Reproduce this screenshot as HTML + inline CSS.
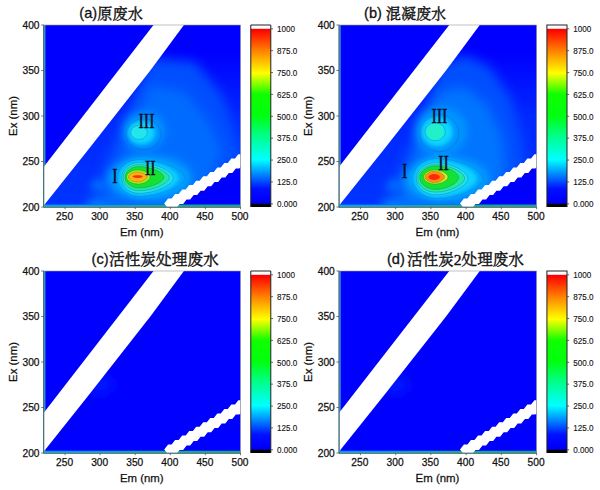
<!DOCTYPE html>
<html><head><meta charset="utf-8"><title>EEM</title>
<style>
html,body{margin:0;padding:0;background:#fff;}
body{width:600px;height:490px;overflow:hidden;font-family:"Liberation Sans",sans-serif;}
svg{display:block}
.tk{font-family:"Liberation Sans",sans-serif;font-size:10.2px;fill:#111;stroke:#111;stroke-width:0.25px}
.ax{font-family:"Liberation Sans",sans-serif;font-size:11.4px;fill:#111;stroke:#111;stroke-width:0.25px}
.cbt{font-family:"Liberation Sans",sans-serif;font-size:9.3px;fill:#111;stroke:#111;stroke-width:0.12px}
.tt{font-family:"Liberation Sans",sans-serif;font-size:14.6px;fill:#111;stroke:#111;stroke-width:0.3px}
.rn{font-family:"Liberation Serif",serif;font-size:21px;fill:#0c0c28;stroke:#0c0c28;stroke-width:0.45px}
.cj{font-family:"Liberation Serif","Noto Serif CJK SC",serif;fill:#111;stroke:#111;stroke-width:0.4px}
</style></head><body>
<svg width="600" height="490" viewBox="0 0 600 490">
<defs>
<clipPath id="clip"><rect x="0" y="0" width="196.5" height="182"/></clipPath>
<linearGradient id="cb" x1="0" y1="1" x2="0" y2="0">
<stop offset="0" stop-color="#0000c0"/>
<stop offset="0.04" stop-color="#0000ff"/>
<stop offset="0.10" stop-color="#0010ff"/>
<stop offset="0.26" stop-color="#00ffff"/>
<stop offset="0.40" stop-color="#00ff80"/>
<stop offset="0.50" stop-color="#00ff10"/>
<stop offset="0.62" stop-color="#10ff00"/>
<stop offset="0.735" stop-color="#ffff00"/>
<stop offset="0.86" stop-color="#ff8000"/>
<stop offset="0.975" stop-color="#ff0000"/>
<stop offset="1" stop-color="#ff0000"/>
</linearGradient>
<linearGradient id="base" x1="0" y1="0" x2="0" y2="1"><stop offset="0.15" stop-color="#0000fe"/><stop offset="0.5" stop-color="#0028ff"/><stop offset="1" stop-color="#0034ff"/></linearGradient>
<linearGradient id="botline2" x1="0" y1="0" x2="0" y2="1"><stop offset="0" stop-color="#1088e8"/><stop offset="0.6" stop-color="#18c0d0"/><stop offset="1" stop-color="#20b0a0"/></linearGradient>
<linearGradient id="botline" x1="0" y1="0" x2="0" y2="1"><stop offset="0" stop-color="#0868ff"/><stop offset="0.5" stop-color="#10a8e8"/><stop offset="1" stop-color="#18b4c0"/></linearGradient>
<linearGradient id="botgreen" x1="0" y1="0" x2="1" y2="0"><stop offset="0.2" stop-color="#20b070" stop-opacity="0"/><stop offset="0.6" stop-color="#20b070" stop-opacity="0.85"/><stop offset="1" stop-color="#20a860" stop-opacity="0.9"/></linearGradient>
<filter id="b12" x="-50%" y="-50%" width="200%" height="200%"><feGaussianBlur stdDeviation="10"/></filter>
<clipPath id="mid"><polygon points="0,180 2.2,177.5 44,125 106.7,45 139.9,0 196.5,0 196.5,129 120,182 0,182"/></clipPath>
<filter id="b8" x="-50%" y="-50%" width="200%" height="200%"><feGaussianBlur stdDeviation="6"/></filter>
<filter id="b5" x="-50%" y="-50%" width="200%" height="200%"><feGaussianBlur stdDeviation="4.5"/></filter>
<filter id="b05" x="-50%" y="-50%" width="200%" height="200%"><feGaussianBlur stdDeviation="0.5"/></filter>
<filter id="b6" x="-50%" y="-50%" width="200%" height="200%"><feGaussianBlur stdDeviation="6"/></filter>
<filter id="b3" x="-50%" y="-50%" width="200%" height="200%"><feGaussianBlur stdDeviation="2.4"/></filter>
<filter id="b1" x="-50%" y="-50%" width="200%" height="200%"><feGaussianBlur stdDeviation="0.7"/></filter>
</defs>
<rect width="600" height="490" fill="#fff"/>

<g transform="translate(44,25) scale(1,1)">
<rect x="0" y="0" width="196.5" height="182.0" fill="#0000fe"/>
<g clip-path="url(#clip)">
<g clip-path="url(#mid)">
<rect x="0" y="0" width="196.5" height="182" fill="url(#base)"/>
<g filter="url(#b8)">
<polygon points="106.0,33.0 151.0,37.0 178.0,70.0 194.0,115.0 200.0,135.0 200.0,186.0 40.0,186.0 52.0,160.0" fill="#0050ff" />
</g>
<g filter="url(#b6)">
<polygon points="106.0,60.0 141.0,67.0 164.0,95.0 178.0,125.0 156.0,186.0 56.0,186.0 71.0,145.0" fill="#006cff" />
</g>
<g filter="url(#b5)">
<ellipse cx="100.0" cy="106.0" rx="21.0" ry="19.0" fill="#0094ff" />
<ellipse cx="106.0" cy="153.0" rx="42.0" ry="22.0" fill="#00a0ff" />
<ellipse cx="54.0" cy="160.0" rx="7.0" ry="4.0" fill="#0080ff" />
<ellipse cx="52.0" cy="180.0" rx="10.0" ry="2.5" fill="#00b0ff" />
</g>
<g filter="url(#b3)">
<ellipse cx="97.5" cy="107.8" rx="13.5" ry="11.5" fill="#10d8ff" />
<path d="M75.0,153.0C75.0,143.3 84.0,135.5 95.0,135.5C113.0,135.5 135.0,145.1 135.0,153.0C135.0,160.9 113.0,170.5 95.0,170.5C84.0,170.5 75.0,162.7 75.0,153.0Z" fill="#10d4ff" />
</g>
</g>
<g filter="url(#b1)">
<ellipse cx="95.0" cy="107.5" rx="8.2" ry="6.9" fill="#22e6ee" />
<path d="M77.8,153.0C77.8,144.5 85.5,137.7 95.0,137.7C110.4,137.7 129.2,146.1 129.2,153.0C129.2,159.9 110.4,168.3 95.0,168.3C85.5,168.3 77.8,161.5 77.8,153.0Z" fill="#20e0f0" />
<path d="M79.2,152.7C79.2,145.5 86.3,139.7 95.0,139.7C108.6,139.7 125.2,146.8 125.2,152.7C125.2,158.5 108.6,165.7 95.0,165.7C86.3,165.7 79.2,159.9 79.2,152.7Z" fill="#20e8a0" />
<path d="M81.2,152.3C81.2,146.4 87.4,141.6 95.0,141.6C106.2,141.6 119.8,147.5 119.8,152.3C119.8,157.1 106.2,163.0 95.0,163.0C87.4,163.0 81.2,158.2 81.2,152.3Z" fill="#18e030" />
<path d="M82.7,152.0C82.7,148.1 88.0,145.0 94.5,145.0C99.7,145.0 106.0,148.8 106.0,152.0C106.0,155.2 99.7,159.0 94.5,159.0C88.0,159.0 82.7,155.9 82.7,152.0Z" fill="#b0ec20" />
<path d="M84.5,152.0C84.5,149.2 88.9,147.0 94.3,147.0C98.3,147.0 103.1,149.8 103.1,152.0C103.1,154.2 98.3,157.0 94.3,157.0C88.9,157.0 84.5,154.8 84.5,152.0Z" fill="#ffb010" />
</g>
<ellipse cx="95.0" cy="107.5" rx="8.2" ry="6.9" fill="none" stroke="#0a3848" stroke-opacity="0.5" stroke-width="0.45"/>
<path d="M77.8,153.0C77.8,144.5 85.5,137.7 95.0,137.7C110.4,137.7 129.2,146.1 129.2,153.0C129.2,159.9 110.4,168.3 95.0,168.3C85.5,168.3 77.8,161.5 77.8,153.0Z" fill="none" stroke="#0a3848" stroke-opacity="0.5" stroke-width="0.45"/>
<path d="M79.2,152.7C79.2,145.5 86.3,139.7 95.0,139.7C108.6,139.7 125.2,146.8 125.2,152.7C125.2,158.5 108.6,165.7 95.0,165.7C86.3,165.7 79.2,159.9 79.2,152.7Z" fill="none" stroke="#0a3848" stroke-opacity="0.5" stroke-width="0.45"/>
<path d="M81.2,152.3C81.2,146.4 87.4,141.6 95.0,141.6C106.2,141.6 119.8,147.5 119.8,152.3C119.8,157.1 106.2,163.0 95.0,163.0C87.4,163.0 81.2,158.2 81.2,152.3Z" fill="none" stroke="#0a3848" stroke-opacity="0.5" stroke-width="0.45"/>
<path d="M82.7,152.0C82.7,148.1 88.0,145.0 94.5,145.0C99.7,145.0 106.0,148.8 106.0,152.0C106.0,155.2 99.7,159.0 94.5,159.0C88.0,159.0 82.7,155.9 82.7,152.0Z" fill="none" stroke="#0a3848" stroke-opacity="0.5" stroke-width="0.45"/>
<path d="M84.5,152.0C84.5,149.2 88.9,147.0 94.3,147.0C98.3,147.0 103.1,149.8 103.1,152.0C103.1,154.2 98.3,157.0 94.3,157.0C88.9,157.0 84.5,154.8 84.5,152.0Z" fill="none" stroke="#0a3848" stroke-opacity="0.5" stroke-width="0.45"/>
<ellipse cx="99.5" cy="109.3" rx="17.5" ry="15.5" fill="none" stroke="#0a3060" stroke-opacity="0.35" stroke-width="0.45"/>
<path d="M73.0,153.0C73.0,142.8 82.8,134.5 95.0,134.5C115.7,134.5 141.0,144.7 141.0,153.0C141.0,161.3 115.7,171.5 95.0,171.5C82.8,171.5 73.0,163.2 73.0,153.0Z" fill="none" stroke="#0a3060" stroke-opacity="0.3" stroke-width="0.45"/>
<g filter="url(#b05)">
<ellipse cx="93.7" cy="151.6" rx="5.0" ry="1.3" fill="#f03010" />
</g>
<text transform="translate(102.5,102.5) scale(0.76,1)" class="rn" text-anchor="middle">III</text>
<text transform="translate(106.3,150.0) scale(0.76,1)" class="rn" text-anchor="middle">II</text>
<text transform="translate(71.0,158.0) scale(0.76,1)" class="rn" text-anchor="middle">I</text>
<rect x="0" y="0" width="1.5" height="182.0" fill="#1c8cd8"/>
<rect x="0" y="179.4" width="196.5" height="2.6" fill="url(#botline)"/>
<rect x="0" y="179.9" width="196.5" height="2.1" fill="url(#botgreen)"/>
<polygon fill="#fff" points="0,141.5 109.5,0 139.9,0 106.7,45 44,125 2.2,177.5 0,180"/>

<path fill="#fff" d="M120.2,178.4L124.1,173.4L132.1,173.4L136.0,178.4L132.1,183.4L124.1,183.4ZM127.2,174.0L131.1,169.0L139.1,169.0L143.0,174.0L139.1,179.0L131.1,179.0ZM134.3,169.6L138.2,164.6L146.2,164.6L150.1,169.6L146.2,174.6L138.2,174.6ZM141.3,165.1L145.2,160.1L153.2,160.1L157.1,165.1L153.2,170.1L145.2,170.1ZM148.3,160.7L152.2,155.7L160.2,155.7L164.1,160.7L160.2,165.7L152.2,165.7ZM155.3,156.3L159.2,151.3L167.2,151.3L171.1,156.3L167.2,161.3L159.2,161.3ZM162.3,151.9L166.2,146.9L174.2,146.9L178.1,151.9L174.2,156.9L166.2,156.9ZM169.4,147.5L173.3,142.5L181.3,142.5L185.2,147.5L181.3,152.5L173.3,152.5ZM176.4,143.0L180.3,138.0L188.3,138.0L192.2,143.0L188.3,148.0L180.3,148.0ZM183.4,138.6L187.3,133.6L195.3,133.6L199.2,138.6L195.3,143.6L187.3,143.6ZM190.4,134.2L194.3,129.2L202.3,129.2L206.2,134.2L202.3,139.2L194.3,139.2ZM197.4,129.8L201.3,124.8L209.3,124.8L213.2,129.8L209.3,134.8L201.3,134.8Z"/>
</g>
<rect x="0" y="0" width="196.5" height="182.0" fill="none" stroke="#9a9a9a" stroke-width="0.6"/>
<path d="M-0.4,0V182.3H196.5" fill="none" stroke="#1f5f66" stroke-width="0.9"/>
<path d="M21.05,182.0v2.2" stroke="#555" stroke-width="0.8"/>
<text x="20.55" y="194.8" text-anchor="middle" class="tk">250</text>
<path d="M56.14,182.0v2.2" stroke="#555" stroke-width="0.8"/>
<text x="55.64" y="194.8" text-anchor="middle" class="tk">300</text>
<path d="M91.23,182.0v2.2" stroke="#555" stroke-width="0.8"/>
<text x="90.73" y="194.8" text-anchor="middle" class="tk">350</text>
<path d="M126.32,182.0v2.2" stroke="#555" stroke-width="0.8"/>
<text x="125.82" y="194.8" text-anchor="middle" class="tk">400</text>
<path d="M161.41,182.0v2.2" stroke="#555" stroke-width="0.8"/>
<text x="160.91" y="194.8" text-anchor="middle" class="tk">450</text>
<path d="M196.50,182.0v2.2" stroke="#555" stroke-width="0.8"/>
<text x="196.00" y="194.8" text-anchor="middle" class="tk">500</text>
<path d="M0,182.00h-2.8" stroke="#555" stroke-width="0.8"/>
<text x="-4.5" y="185.70" text-anchor="end" class="tk">200</text>
<path d="M0,136.50h-2.8" stroke="#555" stroke-width="0.8"/>
<text x="-4.5" y="140.20" text-anchor="end" class="tk">250</text>
<path d="M0,91.00h-2.8" stroke="#555" stroke-width="0.8"/>
<text x="-4.5" y="94.70" text-anchor="end" class="tk">300</text>
<path d="M0,45.50h-2.8" stroke="#555" stroke-width="0.8"/>
<text x="-4.5" y="49.20" text-anchor="end" class="tk">350</text>
<path d="M0,0.00h-2.8" stroke="#555" stroke-width="0.8"/>
<text x="-4.5" y="3.70" text-anchor="end" class="tk">400</text>
<text x="97.80" y="211.1" text-anchor="middle" class="ax">Em (nm)</text>
<text transform="translate(-27.5,91.0) rotate(-90)" text-anchor="middle" class="ax">Ex (nm)</text>
<rect x="206.8" y="0" width="20" height="182.0" fill="url(#cb)"/>
<rect x="206.8" y="0" width="20" height="3.8" fill="#fff"/>
<rect x="206.8" y="178.8" width="20" height="3.2" fill="#000"/>
<path d="M206.8,182.0V0H226.8V182.0" fill="none" stroke="#222" stroke-width="1"/>
<path d="M226.8,3.80h2.2" stroke="#444" stroke-width="0.8"/>
<text transform="translate(233.10,7.10) scale(0.87,1)" class="cbt">1000</text>
<path d="M226.8,25.68h2.2" stroke="#444" stroke-width="0.8"/>
<text transform="translate(233.10,28.98) scale(0.87,1)" class="cbt">875.0</text>
<path d="M226.8,47.55h2.2" stroke="#444" stroke-width="0.8"/>
<text transform="translate(233.10,50.85) scale(0.87,1)" class="cbt">750.0</text>
<path d="M226.8,69.42h2.2" stroke="#444" stroke-width="0.8"/>
<text transform="translate(233.10,72.72) scale(0.87,1)" class="cbt">625.0</text>
<path d="M226.8,91.30h2.2" stroke="#444" stroke-width="0.8"/>
<text transform="translate(233.10,94.60) scale(0.87,1)" class="cbt">500.0</text>
<path d="M226.8,113.17h2.2" stroke="#444" stroke-width="0.8"/>
<text transform="translate(233.10,116.47) scale(0.87,1)" class="cbt">375.0</text>
<path d="M226.8,135.05h2.2" stroke="#444" stroke-width="0.8"/>
<text transform="translate(233.10,138.35) scale(0.87,1)" class="cbt">250.0</text>
<path d="M226.8,156.93h2.2" stroke="#444" stroke-width="0.8"/>
<text transform="translate(233.10,160.23) scale(0.87,1)" class="cbt">125.0</text>
<path d="M226.8,178.80h2.2" stroke="#444" stroke-width="0.8"/>
<text transform="translate(233.10,182.10) scale(0.87,1)" class="cbt">0.000</text>
</g>
<text x="79.3" y="18.0" class="tt">(a)</text>
<g transform="translate(339.3,25) scale(1.004,1)">
<rect x="0" y="0" width="196.5" height="182.0" fill="#0000fe"/>
<g clip-path="url(#clip)">
<g clip-path="url(#mid)">
<rect x="0" y="0" width="196.5" height="182" fill="url(#base)"/>
<g filter="url(#b8)">
<polygon points="100.0,40.0 125.0,30.0 150.0,42.0 172.0,75.0 182.0,115.0 186.0,150.0 200.0,186.0 40.0,186.0 52.0,160.0 80.0,100.0" fill="#0050ff" />
</g>
<g filter="url(#b6)">
<polygon points="100.0,66.0 125.0,62.0 148.0,80.0 162.0,110.0 166.0,140.0 156.0,186.0 56.0,186.0 71.0,145.0 85.0,100.0" fill="#0074ff" />
</g>
<g filter="url(#b5)">
<ellipse cx="101.5" cy="106.0" rx="26.0" ry="24.0" fill="#0094ff" />
<ellipse cx="106.5" cy="154.0" rx="42.0" ry="22.0" fill="#00a0ff" />
<ellipse cx="54.0" cy="160.0" rx="7.0" ry="4.0" fill="#0080ff" />
<ellipse cx="52.0" cy="180.0" rx="10.0" ry="2.5" fill="#00b0ff" />
</g>
<g filter="url(#b3)">
<ellipse cx="97.5" cy="106.7" rx="15.5" ry="14.5" fill="#10d8ff" />
<path d="M74.5,153.5C74.5,143.0 84.3,134.5 96.5,134.5C115.0,134.5 137.5,144.9 137.5,153.5C137.5,162.1 115.0,172.5 96.5,172.5C84.3,172.5 74.5,164.0 74.5,153.5Z" fill="#10d4ff" />
</g>
</g>
<g filter="url(#b1)">
<ellipse cx="95.5" cy="106.7" rx="10.0" ry="9.1" fill="#22e6ee" />
<ellipse cx="95.5" cy="106.9" rx="8.2" ry="7.4" fill="#20f0c8" />
<path d="M76.8,153.7C76.8,144.9 85.5,137.7 96.2,137.7C110.6,137.7 128.2,146.5 128.2,153.7C128.2,160.9 110.6,169.7 96.2,169.7C85.5,169.7 76.8,162.5 76.8,153.7Z" fill="#20e0f0" />
<path d="M78.2,153.4C78.2,145.8 86.3,139.7 96.2,139.7C109.1,139.7 124.8,147.2 124.8,153.4C124.8,159.6 109.1,167.1 96.2,167.1C86.3,167.1 78.2,161.0 78.2,153.4Z" fill="#20e8a0" />
<path d="M80.2,152.7C80.2,146.2 87.4,141.0 96.2,141.0C106.4,141.0 118.8,147.4 118.8,152.7C118.8,158.0 106.4,164.4 96.2,164.4C87.4,164.4 80.2,159.2 80.2,152.7Z" fill="#18e030" />
<path d="M84.2,152.0C84.2,148.1 89.3,145.0 95.7,145.0C101.3,145.0 108.2,148.8 108.2,152.0C108.2,155.2 101.3,159.0 95.7,159.0C89.3,159.0 84.2,155.9 84.2,152.0Z" fill="#d0f020" />
<path d="M85.5,152.0C85.5,148.9 89.9,146.3 95.3,146.3C99.6,146.3 104.8,149.4 104.8,152.0C104.8,154.6 99.6,157.7 95.3,157.7C89.9,157.7 85.5,155.1 85.5,152.0Z" fill="#ff9010" />
</g>
<ellipse cx="95.5" cy="106.7" rx="10.0" ry="9.1" fill="none" stroke="#0a3848" stroke-opacity="0.5" stroke-width="0.45"/>
<path d="M76.8,153.7C76.8,144.9 85.5,137.7 96.2,137.7C110.6,137.7 128.2,146.5 128.2,153.7C128.2,160.9 110.6,169.7 96.2,169.7C85.5,169.7 76.8,162.5 76.8,153.7Z" fill="none" stroke="#0a3848" stroke-opacity="0.5" stroke-width="0.45"/>
<path d="M78.2,153.4C78.2,145.8 86.3,139.7 96.2,139.7C109.1,139.7 124.8,147.2 124.8,153.4C124.8,159.6 109.1,167.1 96.2,167.1C86.3,167.1 78.2,161.0 78.2,153.4Z" fill="none" stroke="#0a3848" stroke-opacity="0.5" stroke-width="0.45"/>
<path d="M80.2,152.7C80.2,146.2 87.4,141.0 96.2,141.0C106.4,141.0 118.8,147.4 118.8,152.7C118.8,158.0 106.4,164.4 96.2,164.4C87.4,164.4 80.2,159.2 80.2,152.7Z" fill="none" stroke="#0a3848" stroke-opacity="0.5" stroke-width="0.45"/>
<path d="M84.2,152.0C84.2,148.1 89.3,145.0 95.7,145.0C101.3,145.0 108.2,148.8 108.2,152.0C108.2,155.2 101.3,159.0 95.7,159.0C89.3,159.0 84.2,155.9 84.2,152.0Z" fill="none" stroke="#0a3848" stroke-opacity="0.5" stroke-width="0.45"/>
<path d="M85.5,152.0C85.5,148.9 89.9,146.3 95.3,146.3C99.6,146.3 104.8,149.4 104.8,152.0C104.8,154.6 99.6,157.7 95.3,157.7C89.9,157.7 85.5,155.1 85.5,152.0Z" fill="none" stroke="#0a3848" stroke-opacity="0.5" stroke-width="0.45"/>
<ellipse cx="99.5" cy="108.2" rx="19.5" ry="18.5" fill="none" stroke="#0a3060" stroke-opacity="0.35" stroke-width="0.45"/>
<path d="M72.5,153.5C72.5,142.5 83.2,133.5 96.5,133.5C117.7,133.5 143.5,144.5 143.5,153.5C143.5,162.5 117.7,173.5 96.5,173.5C83.2,173.5 72.5,164.5 72.5,153.5Z" fill="none" stroke="#0a3060" stroke-opacity="0.3" stroke-width="0.45"/>
<g filter="url(#b05)">
<ellipse cx="94.5" cy="152.0" rx="5.7" ry="3.0" fill="#ff2810" />
</g>
<text transform="translate(99.7,98.3) scale(0.76,1)" class="rn" text-anchor="middle">III</text>
<text transform="translate(103.8,145.0) scale(0.76,1)" class="rn" text-anchor="middle">II</text>
<text transform="translate(65.2,153.0) scale(0.76,1)" class="rn" text-anchor="middle">I</text>
<rect x="0" y="0" width="1.5" height="182.0" fill="#1c8cd8"/>
<rect x="0" y="179.4" width="196.5" height="2.6" fill="url(#botline)"/>
<rect x="0" y="179.9" width="196.5" height="2.1" fill="url(#botgreen)"/>
<polygon fill="#fff" points="0,141.5 109.5,0 139.9,0 106.7,45 44,125 2.2,177.5 0,180"/>

<path fill="#fff" d="M120.2,178.4L124.1,173.4L132.1,173.4L136.0,178.4L132.1,183.4L124.1,183.4ZM127.2,174.0L131.1,169.0L139.1,169.0L143.0,174.0L139.1,179.0L131.1,179.0ZM134.3,169.6L138.2,164.6L146.2,164.6L150.1,169.6L146.2,174.6L138.2,174.6ZM141.3,165.1L145.2,160.1L153.2,160.1L157.1,165.1L153.2,170.1L145.2,170.1ZM148.3,160.7L152.2,155.7L160.2,155.7L164.1,160.7L160.2,165.7L152.2,165.7ZM155.3,156.3L159.2,151.3L167.2,151.3L171.1,156.3L167.2,161.3L159.2,161.3ZM162.3,151.9L166.2,146.9L174.2,146.9L178.1,151.9L174.2,156.9L166.2,156.9ZM169.4,147.5L173.3,142.5L181.3,142.5L185.2,147.5L181.3,152.5L173.3,152.5ZM176.4,143.0L180.3,138.0L188.3,138.0L192.2,143.0L188.3,148.0L180.3,148.0ZM183.4,138.6L187.3,133.6L195.3,133.6L199.2,138.6L195.3,143.6L187.3,143.6ZM190.4,134.2L194.3,129.2L202.3,129.2L206.2,134.2L202.3,139.2L194.3,139.2ZM197.4,129.8L201.3,124.8L209.3,124.8L213.2,129.8L209.3,134.8L201.3,134.8Z"/>
</g>
<rect x="0" y="0" width="196.5" height="182.0" fill="none" stroke="#9a9a9a" stroke-width="0.6"/>
<path d="M-0.4,0V182.3H196.5" fill="none" stroke="#1f5f66" stroke-width="0.9"/>
<path d="M21.05,182.0v2.2" stroke="#555" stroke-width="0.8"/>
<text x="20.55" y="194.8" text-anchor="middle" class="tk">250</text>
<path d="M56.14,182.0v2.2" stroke="#555" stroke-width="0.8"/>
<text x="55.64" y="194.8" text-anchor="middle" class="tk">300</text>
<path d="M91.23,182.0v2.2" stroke="#555" stroke-width="0.8"/>
<text x="90.73" y="194.8" text-anchor="middle" class="tk">350</text>
<path d="M126.32,182.0v2.2" stroke="#555" stroke-width="0.8"/>
<text x="125.82" y="194.8" text-anchor="middle" class="tk">400</text>
<path d="M161.41,182.0v2.2" stroke="#555" stroke-width="0.8"/>
<text x="160.91" y="194.8" text-anchor="middle" class="tk">450</text>
<path d="M196.50,182.0v2.2" stroke="#555" stroke-width="0.8"/>
<text x="196.00" y="194.8" text-anchor="middle" class="tk">500</text>
<path d="M0,182.00h-2.8" stroke="#555" stroke-width="0.8"/>
<text x="-4.5" y="185.70" text-anchor="end" class="tk">200</text>
<path d="M0,136.50h-2.8" stroke="#555" stroke-width="0.8"/>
<text x="-4.5" y="140.20" text-anchor="end" class="tk">250</text>
<path d="M0,91.00h-2.8" stroke="#555" stroke-width="0.8"/>
<text x="-4.5" y="94.70" text-anchor="end" class="tk">300</text>
<path d="M0,45.50h-2.8" stroke="#555" stroke-width="0.8"/>
<text x="-4.5" y="49.20" text-anchor="end" class="tk">350</text>
<path d="M0,0.00h-2.8" stroke="#555" stroke-width="0.8"/>
<text x="-4.5" y="3.70" text-anchor="end" class="tk">400</text>
<text x="97.80" y="211.1" text-anchor="middle" class="ax">Em (nm)</text>
<text transform="translate(-27.5,91.0) rotate(-90)" text-anchor="middle" class="ax">Ex (nm)</text>
<rect x="206.8" y="0" width="20" height="182.0" fill="url(#cb)"/>
<rect x="206.8" y="0" width="20" height="3.8" fill="#fff"/>
<rect x="206.8" y="178.8" width="20" height="3.2" fill="#000"/>
<path d="M206.8,182.0V0H226.8V182.0" fill="none" stroke="#222" stroke-width="1"/>
<path d="M226.8,3.80h2.2" stroke="#444" stroke-width="0.8"/>
<text transform="translate(233.10,7.10) scale(0.87,1)" class="cbt">1000</text>
<path d="M226.8,25.68h2.2" stroke="#444" stroke-width="0.8"/>
<text transform="translate(233.10,28.98) scale(0.87,1)" class="cbt">875.0</text>
<path d="M226.8,47.55h2.2" stroke="#444" stroke-width="0.8"/>
<text transform="translate(233.10,50.85) scale(0.87,1)" class="cbt">750.0</text>
<path d="M226.8,69.42h2.2" stroke="#444" stroke-width="0.8"/>
<text transform="translate(233.10,72.72) scale(0.87,1)" class="cbt">625.0</text>
<path d="M226.8,91.30h2.2" stroke="#444" stroke-width="0.8"/>
<text transform="translate(233.10,94.60) scale(0.87,1)" class="cbt">500.0</text>
<path d="M226.8,113.17h2.2" stroke="#444" stroke-width="0.8"/>
<text transform="translate(233.10,116.47) scale(0.87,1)" class="cbt">375.0</text>
<path d="M226.8,135.05h2.2" stroke="#444" stroke-width="0.8"/>
<text transform="translate(233.10,138.35) scale(0.87,1)" class="cbt">250.0</text>
<path d="M226.8,156.93h2.2" stroke="#444" stroke-width="0.8"/>
<text transform="translate(233.10,160.23) scale(0.87,1)" class="cbt">125.0</text>
<path d="M226.8,178.80h2.2" stroke="#444" stroke-width="0.8"/>
<text transform="translate(233.10,182.10) scale(0.87,1)" class="cbt">0.000</text>
</g>
<text x="364.1" y="18.0" class="tt">(b)</text>
<g transform="translate(44,271) scale(1,1)">
<rect x="0" y="0" width="196.5" height="182.0" fill="#0000fe"/>
<g clip-path="url(#clip)">
<g filter="url(#b6)">
<ellipse cx="56.1" cy="113.8" rx="14.0" ry="10.0" fill="#0018ff" />
</g>
<rect x="0" y="0" width="1.5" height="182.0" fill="#1c8cd8"/>
<rect x="0" y="179.6" width="196.5" height="2.4" fill="url(#botline)"/>
<rect x="0" y="180.1" width="196.5" height="1.9" fill="url(#botgreen)"/>
<polygon fill="#fff" points="0,141.5 109.5,0 139.9,0 106.7,45 44,125 2.2,177.5 0,180"/>

<path fill="#fff" d="M120.2,178.4L124.1,173.4L132.1,173.4L136.0,178.4L132.1,183.4L124.1,183.4ZM127.2,174.0L131.1,169.0L139.1,169.0L143.0,174.0L139.1,179.0L131.1,179.0ZM134.3,169.6L138.2,164.6L146.2,164.6L150.1,169.6L146.2,174.6L138.2,174.6ZM141.3,165.1L145.2,160.1L153.2,160.1L157.1,165.1L153.2,170.1L145.2,170.1ZM148.3,160.7L152.2,155.7L160.2,155.7L164.1,160.7L160.2,165.7L152.2,165.7ZM155.3,156.3L159.2,151.3L167.2,151.3L171.1,156.3L167.2,161.3L159.2,161.3ZM162.3,151.9L166.2,146.9L174.2,146.9L178.1,151.9L174.2,156.9L166.2,156.9ZM169.4,147.5L173.3,142.5L181.3,142.5L185.2,147.5L181.3,152.5L173.3,152.5ZM176.4,143.0L180.3,138.0L188.3,138.0L192.2,143.0L188.3,148.0L180.3,148.0ZM183.4,138.6L187.3,133.6L195.3,133.6L199.2,138.6L195.3,143.6L187.3,143.6ZM190.4,134.2L194.3,129.2L202.3,129.2L206.2,134.2L202.3,139.2L194.3,139.2ZM197.4,129.8L201.3,124.8L209.3,124.8L213.2,129.8L209.3,134.8L201.3,134.8Z"/>
</g>
<rect x="0" y="0" width="196.5" height="182.0" fill="none" stroke="#9a9a9a" stroke-width="0.6"/>
<path d="M-0.4,0V182.3H196.5" fill="none" stroke="#1f5f66" stroke-width="0.9"/>
<path d="M21.05,182.0v2.2" stroke="#555" stroke-width="0.8"/>
<text x="20.55" y="194.8" text-anchor="middle" class="tk">250</text>
<path d="M56.14,182.0v2.2" stroke="#555" stroke-width="0.8"/>
<text x="55.64" y="194.8" text-anchor="middle" class="tk">300</text>
<path d="M91.23,182.0v2.2" stroke="#555" stroke-width="0.8"/>
<text x="90.73" y="194.8" text-anchor="middle" class="tk">350</text>
<path d="M126.32,182.0v2.2" stroke="#555" stroke-width="0.8"/>
<text x="125.82" y="194.8" text-anchor="middle" class="tk">400</text>
<path d="M161.41,182.0v2.2" stroke="#555" stroke-width="0.8"/>
<text x="160.91" y="194.8" text-anchor="middle" class="tk">450</text>
<path d="M196.50,182.0v2.2" stroke="#555" stroke-width="0.8"/>
<text x="196.00" y="194.8" text-anchor="middle" class="tk">500</text>
<path d="M0,182.00h-2.8" stroke="#555" stroke-width="0.8"/>
<text x="-4.5" y="185.70" text-anchor="end" class="tk">200</text>
<path d="M0,136.50h-2.8" stroke="#555" stroke-width="0.8"/>
<text x="-4.5" y="140.20" text-anchor="end" class="tk">250</text>
<path d="M0,91.00h-2.8" stroke="#555" stroke-width="0.8"/>
<text x="-4.5" y="94.70" text-anchor="end" class="tk">300</text>
<path d="M0,45.50h-2.8" stroke="#555" stroke-width="0.8"/>
<text x="-4.5" y="49.20" text-anchor="end" class="tk">350</text>
<path d="M0,0.00h-2.8" stroke="#555" stroke-width="0.8"/>
<text x="-4.5" y="3.70" text-anchor="end" class="tk">400</text>
<text x="97.80" y="211.1" text-anchor="middle" class="ax">Em (nm)</text>
<text transform="translate(-27.5,91.0) rotate(-90)" text-anchor="middle" class="ax">Ex (nm)</text>
<rect x="206.8" y="0" width="20" height="182.0" fill="url(#cb)"/>
<rect x="206.8" y="0" width="20" height="3.8" fill="#fff"/>
<rect x="206.8" y="178.8" width="20" height="3.2" fill="#000"/>
<path d="M206.8,182.0V0H226.8V182.0" fill="none" stroke="#222" stroke-width="1"/>
<path d="M226.8,3.80h2.2" stroke="#444" stroke-width="0.8"/>
<text transform="translate(233.10,7.10) scale(0.87,1)" class="cbt">1000</text>
<path d="M226.8,25.68h2.2" stroke="#444" stroke-width="0.8"/>
<text transform="translate(233.10,28.98) scale(0.87,1)" class="cbt">875.0</text>
<path d="M226.8,47.55h2.2" stroke="#444" stroke-width="0.8"/>
<text transform="translate(233.10,50.85) scale(0.87,1)" class="cbt">750.0</text>
<path d="M226.8,69.42h2.2" stroke="#444" stroke-width="0.8"/>
<text transform="translate(233.10,72.72) scale(0.87,1)" class="cbt">625.0</text>
<path d="M226.8,91.30h2.2" stroke="#444" stroke-width="0.8"/>
<text transform="translate(233.10,94.60) scale(0.87,1)" class="cbt">500.0</text>
<path d="M226.8,113.17h2.2" stroke="#444" stroke-width="0.8"/>
<text transform="translate(233.10,116.47) scale(0.87,1)" class="cbt">375.0</text>
<path d="M226.8,135.05h2.2" stroke="#444" stroke-width="0.8"/>
<text transform="translate(233.10,138.35) scale(0.87,1)" class="cbt">250.0</text>
<path d="M226.8,156.93h2.2" stroke="#444" stroke-width="0.8"/>
<text transform="translate(233.10,160.23) scale(0.87,1)" class="cbt">125.0</text>
<path d="M226.8,178.80h2.2" stroke="#444" stroke-width="0.8"/>
<text transform="translate(233.10,182.10) scale(0.87,1)" class="cbt">0.000</text>
</g>
<text x="91.6" y="264.0" class="tt">(c)</text>
<g transform="translate(339.3,271) scale(1.004,1)">
<rect x="0" y="0" width="196.5" height="182.0" fill="#0000fe"/>
<g clip-path="url(#clip)">
<g filter="url(#b6)">
<ellipse cx="56.1" cy="113.8" rx="14.0" ry="10.0" fill="#0018ff" />
</g>
<rect x="0" y="0" width="1.5" height="182.0" fill="#1c8cd8"/>
<rect x="0" y="179.6" width="196.5" height="2.4" fill="url(#botline)"/>
<rect x="0" y="180.1" width="196.5" height="1.9" fill="url(#botgreen)"/>
<polygon fill="#fff" points="0,141.5 109.5,0 139.9,0 106.7,45 44,125 2.2,177.5 0,180"/>

<path fill="#fff" d="M120.2,178.4L124.1,173.4L132.1,173.4L136.0,178.4L132.1,183.4L124.1,183.4ZM127.2,174.0L131.1,169.0L139.1,169.0L143.0,174.0L139.1,179.0L131.1,179.0ZM134.3,169.6L138.2,164.6L146.2,164.6L150.1,169.6L146.2,174.6L138.2,174.6ZM141.3,165.1L145.2,160.1L153.2,160.1L157.1,165.1L153.2,170.1L145.2,170.1ZM148.3,160.7L152.2,155.7L160.2,155.7L164.1,160.7L160.2,165.7L152.2,165.7ZM155.3,156.3L159.2,151.3L167.2,151.3L171.1,156.3L167.2,161.3L159.2,161.3ZM162.3,151.9L166.2,146.9L174.2,146.9L178.1,151.9L174.2,156.9L166.2,156.9ZM169.4,147.5L173.3,142.5L181.3,142.5L185.2,147.5L181.3,152.5L173.3,152.5ZM176.4,143.0L180.3,138.0L188.3,138.0L192.2,143.0L188.3,148.0L180.3,148.0ZM183.4,138.6L187.3,133.6L195.3,133.6L199.2,138.6L195.3,143.6L187.3,143.6ZM190.4,134.2L194.3,129.2L202.3,129.2L206.2,134.2L202.3,139.2L194.3,139.2ZM197.4,129.8L201.3,124.8L209.3,124.8L213.2,129.8L209.3,134.8L201.3,134.8Z"/>
</g>
<rect x="0" y="0" width="196.5" height="182.0" fill="none" stroke="#9a9a9a" stroke-width="0.6"/>
<path d="M-0.4,0V182.3H196.5" fill="none" stroke="#1f5f66" stroke-width="0.9"/>
<path d="M21.05,182.0v2.2" stroke="#555" stroke-width="0.8"/>
<text x="20.55" y="194.8" text-anchor="middle" class="tk">250</text>
<path d="M56.14,182.0v2.2" stroke="#555" stroke-width="0.8"/>
<text x="55.64" y="194.8" text-anchor="middle" class="tk">300</text>
<path d="M91.23,182.0v2.2" stroke="#555" stroke-width="0.8"/>
<text x="90.73" y="194.8" text-anchor="middle" class="tk">350</text>
<path d="M126.32,182.0v2.2" stroke="#555" stroke-width="0.8"/>
<text x="125.82" y="194.8" text-anchor="middle" class="tk">400</text>
<path d="M161.41,182.0v2.2" stroke="#555" stroke-width="0.8"/>
<text x="160.91" y="194.8" text-anchor="middle" class="tk">450</text>
<path d="M196.50,182.0v2.2" stroke="#555" stroke-width="0.8"/>
<text x="196.00" y="194.8" text-anchor="middle" class="tk">500</text>
<path d="M0,182.00h-2.8" stroke="#555" stroke-width="0.8"/>
<text x="-4.5" y="185.70" text-anchor="end" class="tk">200</text>
<path d="M0,136.50h-2.8" stroke="#555" stroke-width="0.8"/>
<text x="-4.5" y="140.20" text-anchor="end" class="tk">250</text>
<path d="M0,91.00h-2.8" stroke="#555" stroke-width="0.8"/>
<text x="-4.5" y="94.70" text-anchor="end" class="tk">300</text>
<path d="M0,45.50h-2.8" stroke="#555" stroke-width="0.8"/>
<text x="-4.5" y="49.20" text-anchor="end" class="tk">350</text>
<path d="M0,0.00h-2.8" stroke="#555" stroke-width="0.8"/>
<text x="-4.5" y="3.70" text-anchor="end" class="tk">400</text>
<text x="97.80" y="211.1" text-anchor="middle" class="ax">Em (nm)</text>
<text transform="translate(-27.5,91.0) rotate(-90)" text-anchor="middle" class="ax">Ex (nm)</text>
<rect x="206.8" y="0" width="20" height="182.0" fill="url(#cb)"/>
<rect x="206.8" y="0" width="20" height="3.8" fill="#fff"/>
<rect x="206.8" y="178.8" width="20" height="3.2" fill="#000"/>
<path d="M206.8,182.0V0H226.8V182.0" fill="none" stroke="#222" stroke-width="1"/>
<path d="M226.8,3.80h2.2" stroke="#444" stroke-width="0.8"/>
<text transform="translate(233.10,7.10) scale(0.87,1)" class="cbt">1000</text>
<path d="M226.8,25.68h2.2" stroke="#444" stroke-width="0.8"/>
<text transform="translate(233.10,28.98) scale(0.87,1)" class="cbt">875.0</text>
<path d="M226.8,47.55h2.2" stroke="#444" stroke-width="0.8"/>
<text transform="translate(233.10,50.85) scale(0.87,1)" class="cbt">750.0</text>
<path d="M226.8,69.42h2.2" stroke="#444" stroke-width="0.8"/>
<text transform="translate(233.10,72.72) scale(0.87,1)" class="cbt">625.0</text>
<path d="M226.8,91.30h2.2" stroke="#444" stroke-width="0.8"/>
<text transform="translate(233.10,94.60) scale(0.87,1)" class="cbt">500.0</text>
<path d="M226.8,113.17h2.2" stroke="#444" stroke-width="0.8"/>
<text transform="translate(233.10,116.47) scale(0.87,1)" class="cbt">375.0</text>
<path d="M226.8,135.05h2.2" stroke="#444" stroke-width="0.8"/>
<text transform="translate(233.10,138.35) scale(0.87,1)" class="cbt">250.0</text>
<path d="M226.8,156.93h2.2" stroke="#444" stroke-width="0.8"/>
<text transform="translate(233.10,160.23) scale(0.87,1)" class="cbt">125.0</text>
<path d="M226.8,178.80h2.2" stroke="#444" stroke-width="0.8"/>
<text transform="translate(233.10,182.10) scale(0.87,1)" class="cbt">0.000</text>
</g>
<text x="387" y="264.0" class="tt">(d)</text>
<text x="97.3" y="18.6" class="cj" font-size="15.2">原废水</text>
<text x="385.8" y="18.6" class="cj" font-size="15.1">混凝废水</text>
<text x="109.0" y="264.6" class="cj" font-size="15.7">活性炭处理废水</text>
<text x="407.0" y="264.6" class="cj" font-size="15.6">活性炭2处理废水</text>
</svg></body></html>
